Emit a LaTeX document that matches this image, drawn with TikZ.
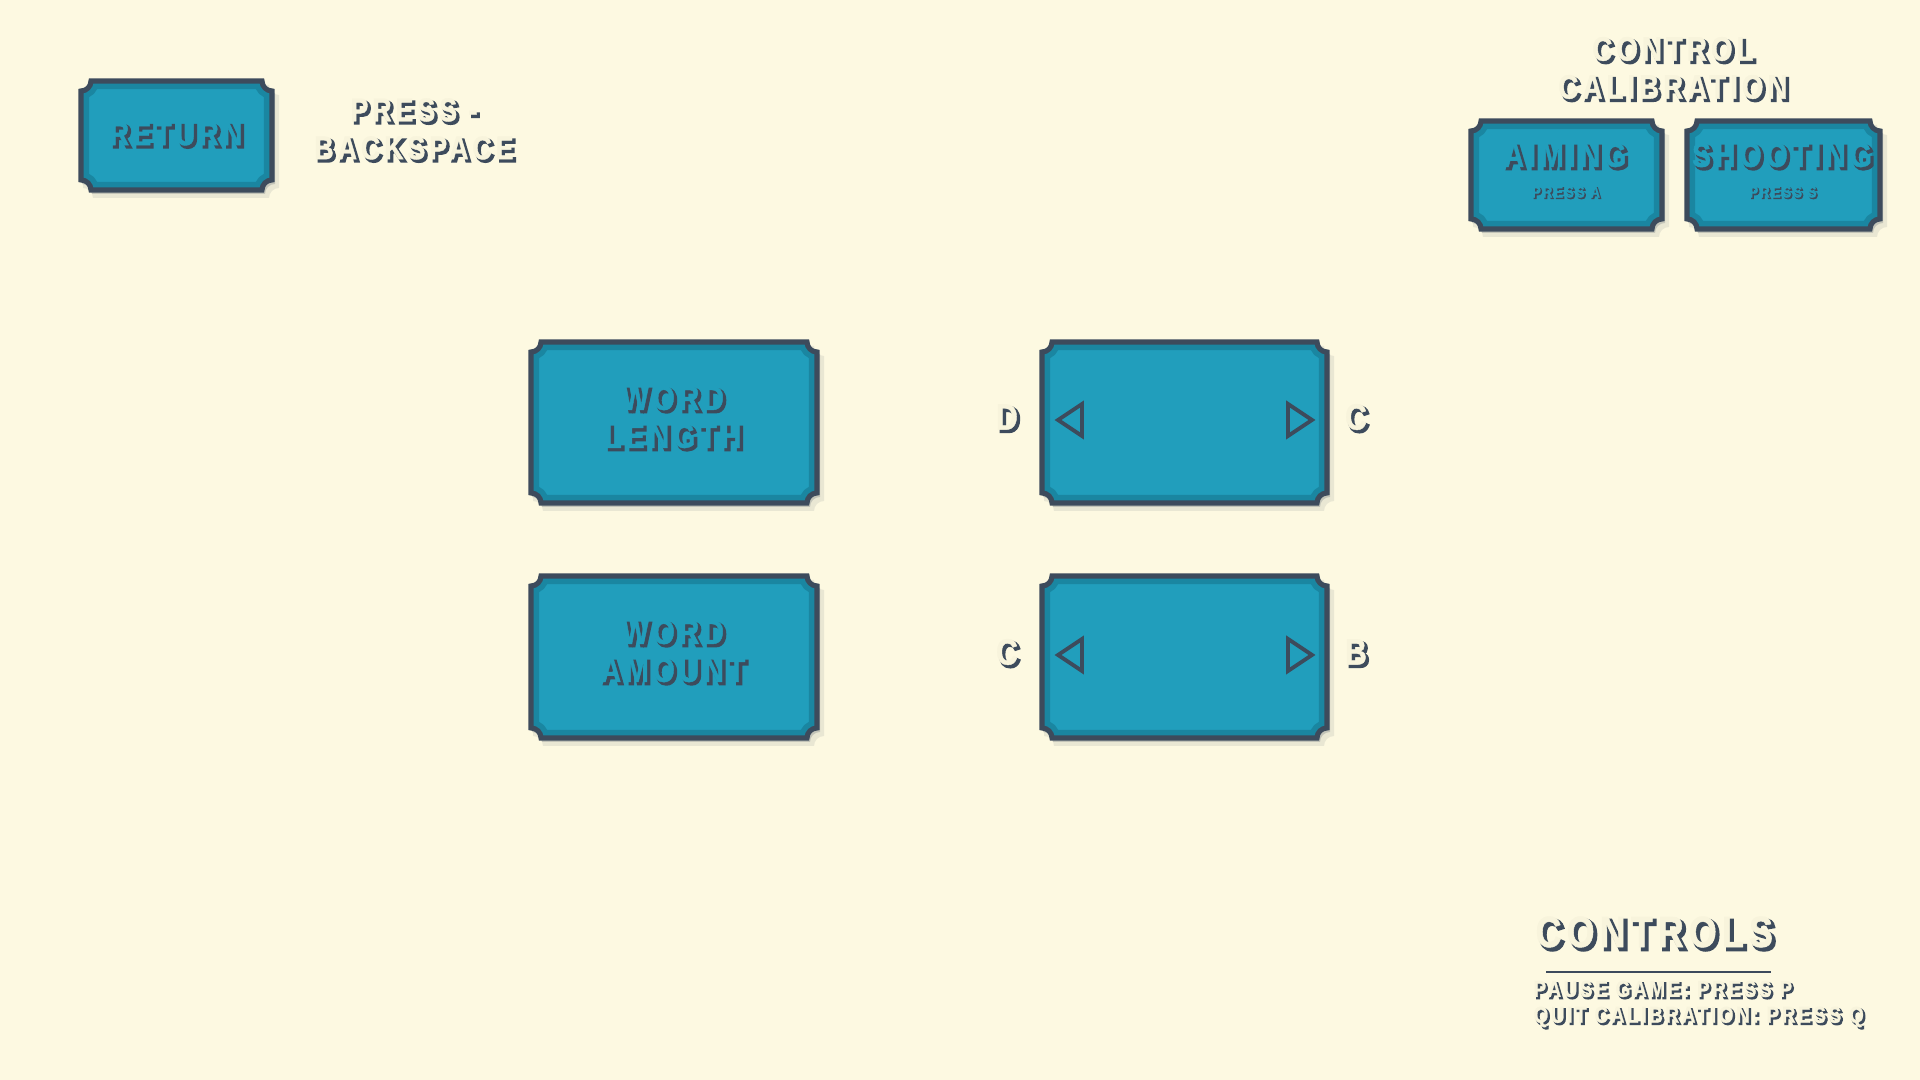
\documentclass[tikz,border=0pt]{standalone}
\usepackage{fontspec}
\newfontfamily\signfont{Liberation Sans}[FakeStretch=0.82,LetterSpace=12,FakeBold=1.2]
\newfontfamily\signshade{Liberation Sans}[FakeStretch=0.82,LetterSpace=12,FakeBold=6]
\usetikzlibrary{calc}

\definecolor{parchment}{HTML}{FDF9E1}
\definecolor{lagoon}{HTML}{219EBC}
\definecolor{lagoondeep}{HTML}{1A86A1}
\definecolor{slate}{HTML}{3D4B5C}
\definecolor{cream}{HTML}{F8F4DC}

\tikzset{
  sign/.style={inner sep=0pt, align=center},
  sz/.style 2 args={font=\signfont\bfseries\fontsize{#1}{#2}\selectfont},
  szshade/.style 2 args={font=\signshade\bfseries\fontsize{#1}{#2}\selectfont},
}

% notched plaque outline: left, top, right, bottom (pixels)
\def\plaquepath#1#2#3#4{(#1,#2+10) .. controls (#1+5.5,#2+10) and (#1+10,#2+5.5) .. (#1+10,#2)
  -- (#3-10,#2) .. controls (#3-10,#2+5.5) and (#3-5.5,#2+10) .. (#3,#2+10)
  -- (#3,#4-10) .. controls (#3-5.5,#4-10) and (#3-10,#4-5.5) .. (#3-10,#4)
  -- (#1+10,#4) .. controls (#1+10,#4-5.5) and (#1+5.5,#4-10) .. (#1,#4-10) -- cycle}

\newcommand{\plaque}[4]{%
  \fill[slate, opacity=.10] \plaquepath{#1+2}{#2+4}{#3+7}{#4+8};
  \fill[slate, opacity=.22] \plaquepath{#1+1}{#2+2}{#3+3}{#4+4};
  \begin{scope}
    \clip \plaquepath{#1}{#2}{#3}{#4};
    \fill[lagoon] \plaquepath{#1}{#2}{#3}{#4};
    \draw[lagoondeep, line width=4.6pt] \plaquepath{#1}{#2}{#3}{#4};
  \end{scope}
  \draw[slate, line width=1.45pt] \plaquepath{#1}{#2}{#3}{#4};
}

% 3d lettering: [keys], name, position, face colour, font size, line skip, depth, text
\newcommand{\embossed}[8][]{%
  \node[sign, #1, szshade={#5}{#6}, text=slate] at ($(#3)+(#7,#7)$) {#8};
  \node[sign, #1, sz={#5}{#6}, text=#4] (#2) at (#3) {#8};
}

\begin{document}
\begin{tikzpicture}[x=0.01cm, y=-0.01cm]
  \useasboundingbox (0,0) rectangle (1920,1080);
  \fill[parchment] (0,0) rectangle (1920,1080);

  % plaques
  \plaque{81}{81}{272}{190}
  \plaque{1471}{121}{1662}{229}
  \plaque{1687}{121}{1880}{229}
  \plaque{531}{342}{817}{503}
  \plaque{531}{576}{817}{738}
  \plaque{1042}{342}{1327}{503}
  \plaque{1042}{576}{1327}{738}

  % selector arrows
  \foreach \y in {420,655} {
    \draw[slate, line width=1.1pt, line join=miter] (1082,\y-16) -- (1058,\y) -- (1082,\y+16) -- cycle;
    \draw[slate, line width=1.1pt, line join=miter] (1288,\y-16) -- (1312,\y) -- (1288,\y+16) -- cycle;
  }

  % top left
  \embossed{return}{176,134}{lagoon}{9.4}{10.8}{2.5}{RETURN}
  \embossed{pressback}{414,129}{cream}{9.3}{10.8}{2.5}{PRESS -\\BACKSPACE}

  % top right
  \embossed{calib}{1673,68}{cream}{9.6}{10.8}{2.5}{CONTROL\\CALIBRATION}
  \embossed{aiming}{1565,155}{lagoon}{9.8}{10.8}{2.5}{AIMING}
  \embossed{aimkey}{1566,192}{lagoon}{4.6}{5.4}{1.2}{PRESS A}
  \embossed{shooting}{1782,155}{lagoon}{9.8}{10.8}{2.5}{SHOOTING}
  \embossed{shootkey}{1783,192}{lagoon}{4.6}{5.4}{1.2}{PRESS S}

  % settings
  \embossed{wordlen}{673,417}{lagoon}{9.8}{10.8}{2.5}{WORD\\LENGTH}
  \embossed{wordamt}{673,651}{lagoon}{9.8}{10.8}{2.5}{WORD\\AMOUNT}
  \embossed{keyD}{1007,417}{cream}{10.4}{12}{2.5}{D}
  \embossed{keyC}{1356,417}{cream}{10.4}{12}{2.5}{C}
  \embossed{keyCb}{1007,652}{cream}{10.4}{12}{2.5}{C}
  \embossed{keyB}{1356,652}{cream}{10.4}{12}{2.5}{B}

  % controls
  \embossed[anchor=west]{ctrltitle}{1535,932}{cream}{12.4}{14}{3}{CONTROLS}
  \draw[slate, line width=0.6pt] (1546,972) -- (1771,972);
  \embossed[anchor=west]{pausekey}{1533,989}{cream}{6.5}{7.5}{1.8}{PAUSE GAME: PRESS P}
  \embossed[anchor=west]{quitkey}{1533,1017}{cream}{6.5}{7.5}{1.8}{QUIT CALIBRATION: PRESS Q}
\end{tikzpicture}
\end{document}
